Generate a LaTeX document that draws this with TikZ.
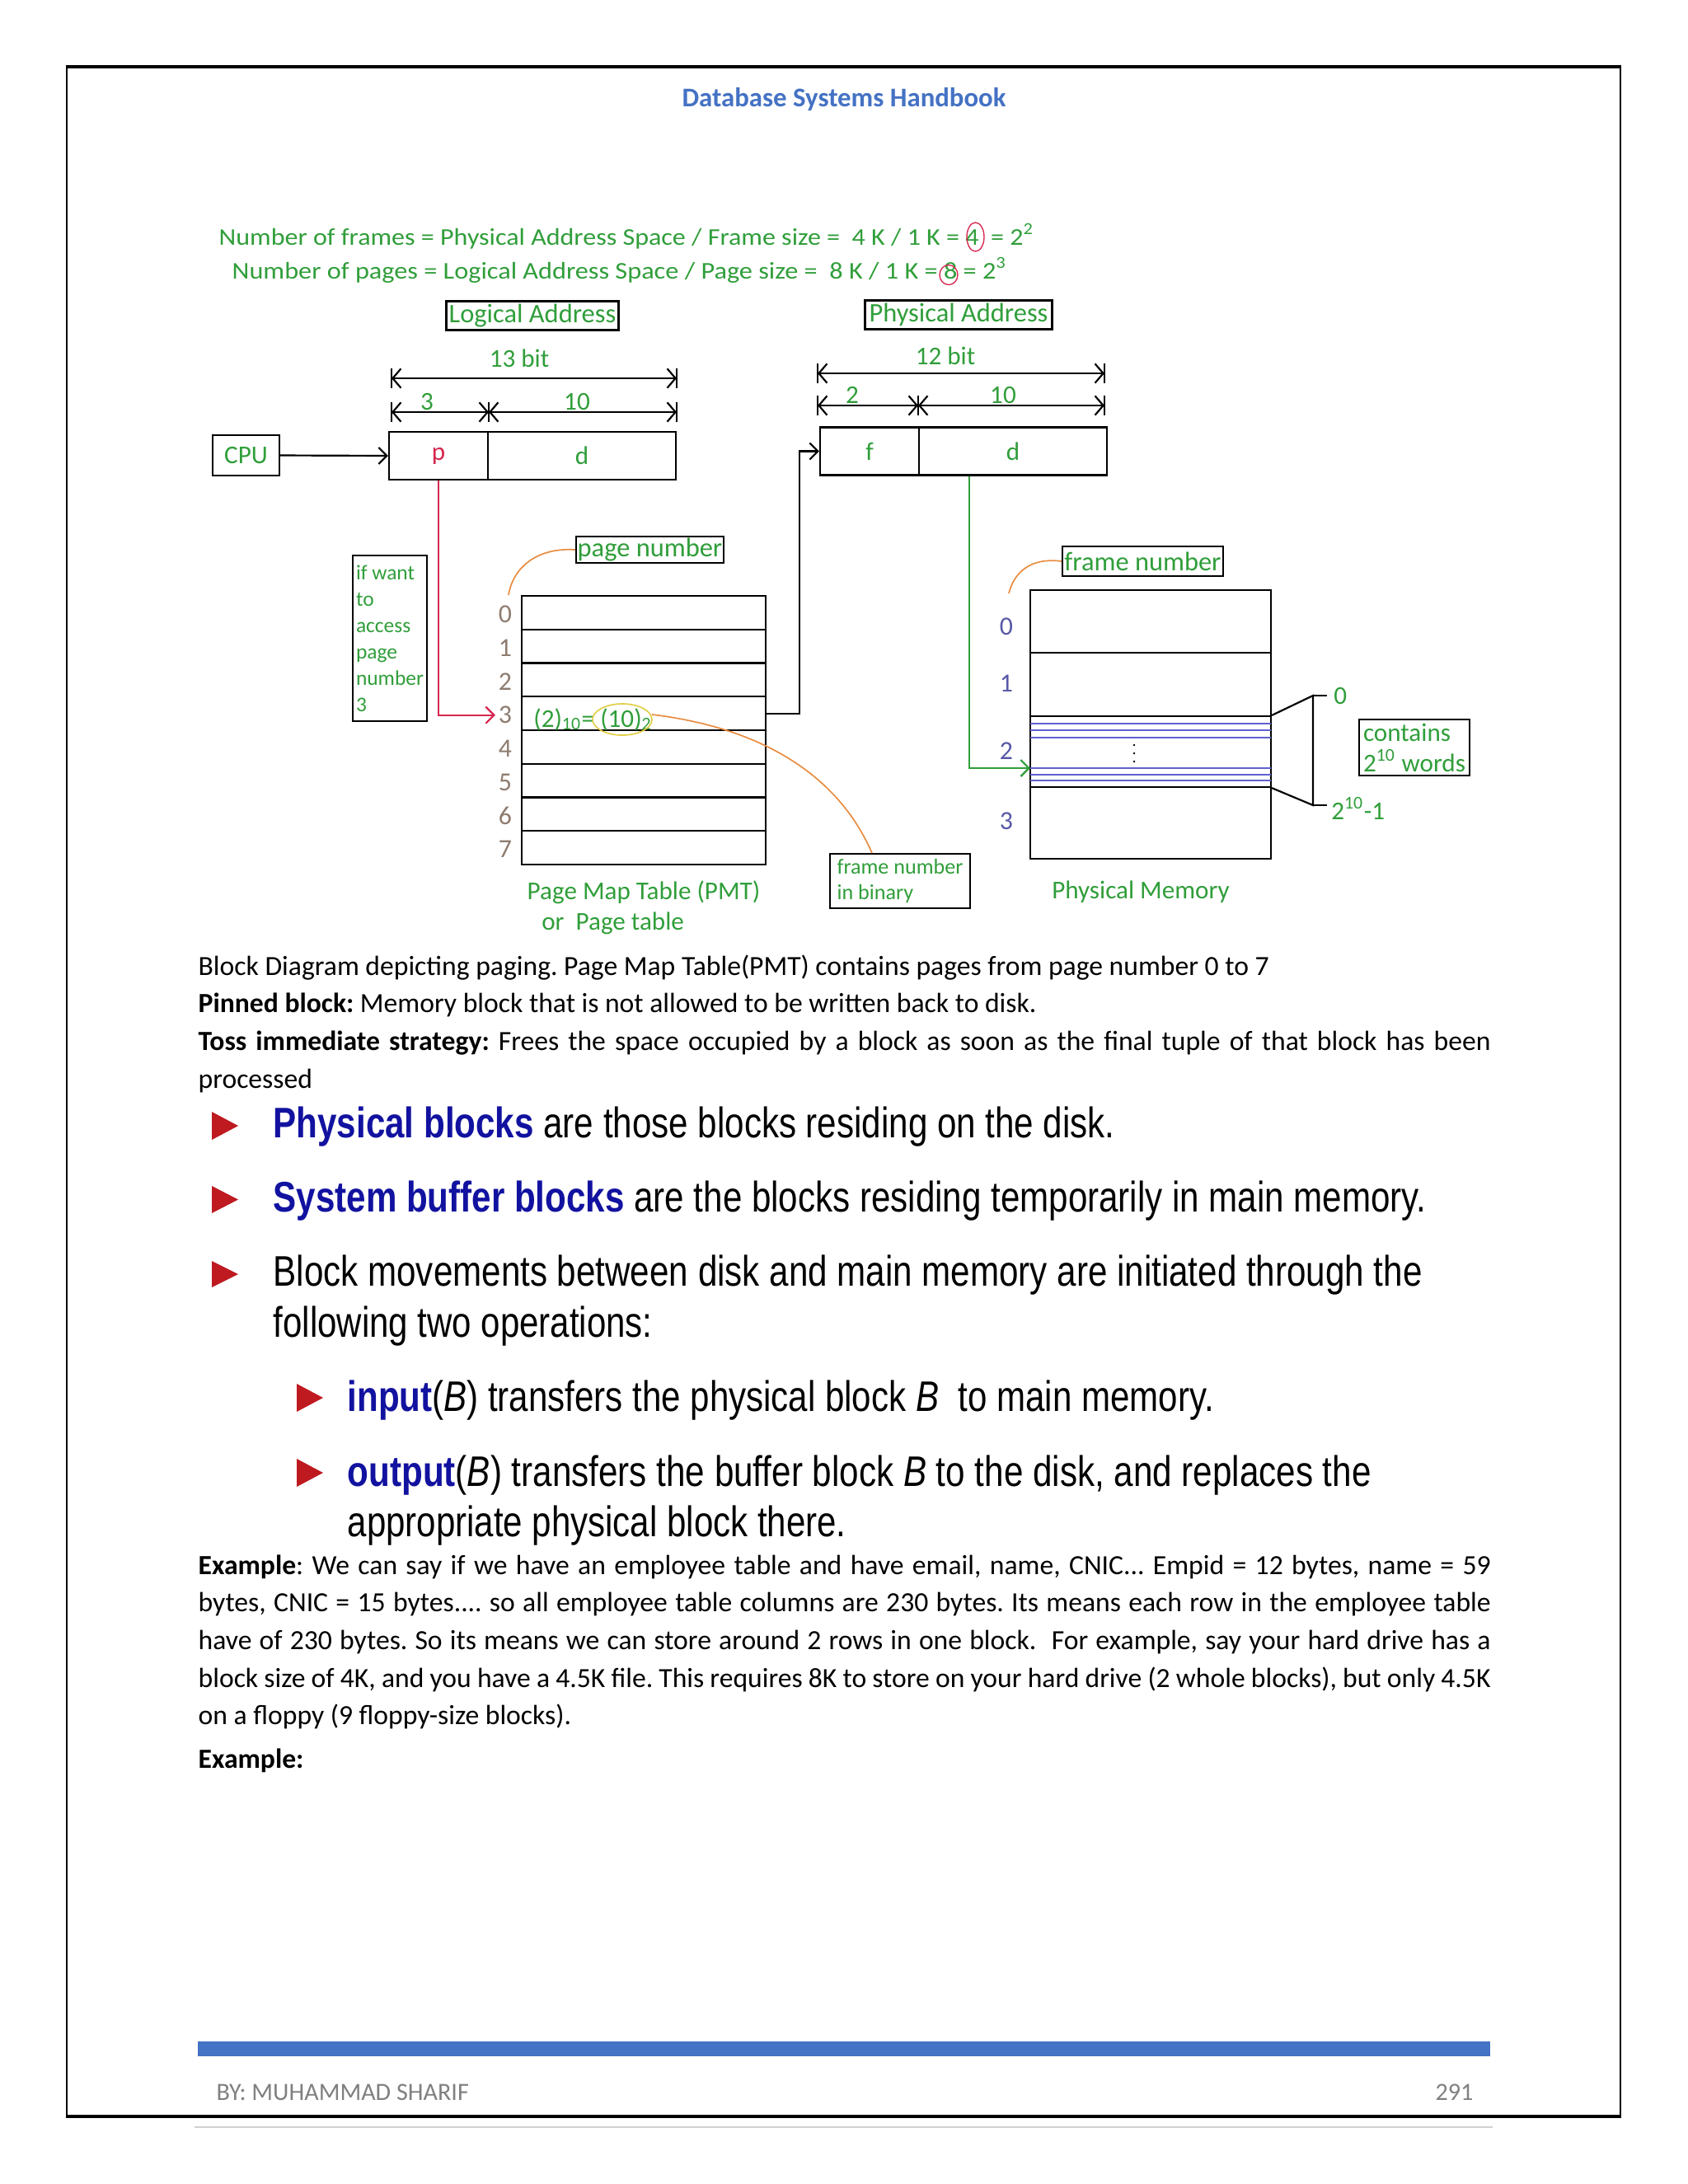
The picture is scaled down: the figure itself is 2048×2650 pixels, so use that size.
\documentclass[tikz,border=0pt]{standalone}
\usepackage{fontspec}
\setmainfont{Carlito}
\newfontfamily\arialf{Liberation Sans}
\usepackage{graphicx}
\usetikzlibrary{arrows.meta,calc}
\newlength\pxu
\setlength\pxu{0.29883pt}
\definecolor{dg}{RGB}{48,158,58}
\definecolor{pr}{RGB}{214,38,78}
\definecolor{orn}{RGB}{232,140,64}
\definecolor{fbl}{RGB}{88,88,168}
\definecolor{lbl}{RGB}{96,96,208}
\definecolor{rgr}{RGB}{142,124,112}
\definecolor{hbl}{RGB}{68,114,196}
\definecolor{navyb}{RGB}{18,18,160}
\definecolor{bred}{RGB}{190,26,32}
\definecolor{yel}{RGB}{226,206,70}
\definecolor{ftg}{RGB}{128,128,128}
\newcommand\bodyf{\fontsize{10.05}{13.65}\selectfont}
\newcommand\bulf{\arialf\fontsize{15.5}{18}\selectfont}
\newcommand\dgf{\fontsize{9.3}{11}\selectfont}
\begin{document}
\frenchspacing
\begin{tikzpicture}[x=0.29883pt,y=-0.29883pt,
  bx/.style 2 args={draw,rectangle,line width=0.65pt,inner sep=0pt,minimum width=#1\pxu,minimum height=#2\pxu},
  ln/.style={line width=0.65pt},
  arr/.style={-{Straight Barb[length=3pt,width=6pt]}},
  dimarr/.style={{Straight Barb[length=3pt,width=7pt]}-{Straight Barb[length=3pt,width=7pt]}},
  gt/.style={text=dg,font=\dgf,inner sep=0.5pt},
  rowlab/.style={text=rgr,font=\fontsize{9.5}{11}\selectfont,inner sep=1pt},
  frlab/.style={text=fbl,font=\fontsize{9.5}{11}\selectfont,inner sep=1pt},
  curv/.style={orn,line width=0.5pt}]
\useasboundingbox (0,0) rectangle (2048,2650);
\fill[white] (0,0) rectangle (2048,2650);
% page frame
\draw[line width=0.6pt] (81,81) rectangle (1966,2568);
\draw[line width=1.4pt] (80,81) -- (1967,81);
\draw[line width=1.4pt] (80,2568) -- (1967,2568);
\draw[black!18,line width=0.8pt] (236,2581) -- (1811,2581);
% header
\node[anchor=base,text=hbl,font=\bfseries\fontsize{9.8}{12}\selectfont,inner sep=0] (hdr) at (1024,129) {Database Systems Handbook};
% formulas
\node[anchor=base west,inner sep=0,text=dg] (eq1) at (265,297) {\resizebox{989\pxu}{\height}{\fontsize{8.7}{10}\selectfont Number of frames = Physical Address Space / Frame size =\ \ 4 K / 1 K = 4\ \ = 2\textsuperscript{2}}};
\node[anchor=base west,inner sep=0,text=dg] (eq2) at (281,338) {\resizebox{940\pxu}{\height}{\fontsize{8.7}{10}\selectfont Number of pages = Logical Address Space / Page size =\ \ 8 K / 1 K = 8\ = 2\textsuperscript{3}}};
\draw[pr,line width=0.4pt] (1183.5,287.5) ellipse [x radius=10.5, y radius=17.5];
\draw[pr,line width=0.4pt] (1151,333.5) ellipse [x radius=11, y radius=12];
% logical address
\node[bx={209}{35},gt,font=\fontsize{9.7}{11}\selectfont] (labL) at (646,383) {Logical Address};
\node[anchor=base,gt] (t13) at (630,445) {13 bit};
\coordinate (a0) at (475,459); \coordinate (a1) at (821,459);
\draw[ln,dimarr] (a0) -- (a1);
\foreach \x in {475,821} \draw[ln] (\x,447) -- (\x,471);
\coordinate (b0) at (475,500); \coordinate (b1) at (593,500); \coordinate (b2) at (821,500);
\draw[ln,dimarr] (b0) -- (b1);
\draw[ln,dimarr] (b1) -- (b2);
\foreach \x in {475,593,821} \draw[ln] (\x,488) -- (\x,512);
\node[anchor=base,gt] (t3) at (518,497) {3};
\node[anchor=base,gt] (t10) at (700,497) {10};
\node[bx={81}{49},gt] (cpu) at (298.5,552.5) {CPU};
\node[bx={120}{58},text=pr,font=\dgf] (lp) at (532,553) {p};
\node[bx={228}{58},gt] (ld) at (706,553) {d};
\draw[ln,arr] (cpu.east) -- (lp.west);
% physical address
\node[bx={227}{35},gt,font=\fontsize{9.7}{11}\selectfont] (labP) at (1163,382) {Physical Address};
\node[anchor=base,gt] (t12) at (1147,442) {12 bit};
\coordinate (c0) at (992,453); \coordinate (c1) at (1340,453);
\draw[ln,dimarr] (c0) -- (c1);
\foreach \x in {992,1340} \draw[ln] (\x,441) -- (\x,465);
\coordinate (e0) at (992,492); \coordinate (e1) at (1114,492); \coordinate (e2) at (1340,492);
\draw[ln,dimarr] (e0) -- (e1);
\draw[ln,dimarr] (e1) -- (e2);
\foreach \x in {992,1114,1340} \draw[ln] (\x,480) -- (\x,504);
\node[anchor=base,gt] (t2) at (1034,489) {2};
\node[anchor=base,gt] (t10b) at (1217,489) {10};
\node[bx={120}{58},gt] (pf) at (1055,547.5) {f};
\node[bx={228}{58},gt] (pd) at (1229,547.5) {d};
% page map table
\foreach \i in {0,...,7} {
  \node[bx={296}{40.75}] (r\i) at (781,{723+40.75*(\i+0.5)}) {};
  \node[rowlab] (n\i) at (613,{725+40.75*(\i+0.5)}) {\i};
}
\node[anchor=base west,gt] (bin) at (645,882) {(2)\textsubscript{10}= (10)\textsubscript{2}};
\draw[yel,line width=0.5pt] (755,873) ellipse [x radius=36, y radius=19];
\coordinate (ye) at (791,867);
\node[bx={179}{28},gt,font=\fontsize{9.7}{11}\selectfont] (pn) at (788.5,667) {page number};
\draw[curv] (pn.west) .. controls (650,664) and (622,690) .. (617,722);
\node[bx={90}{201},text=dg,font=\fontsize{7.6}{9.56}\selectfont,align=left] (iw) at (473,774.5) {if want\\to\\access\\page\\number\\3};
\node[anchor=base,gt] (pmt) at (781,1091) {Page Map Table (PMT)};
\node[anchor=base west,gt] (pmt2) at (655,1128) {or\ \ Page table};
\draw[pr,ln,arr] (lp.south) |- (n3.west);
\coordinate (bend) at (970,547.5);
\draw[ln,arr] (r3.east) -| (bend) -- (pf.west);
% frame number in binary
\node[bx={170}{66},text=dg,font=\fontsize{7.8}{9.5}\selectfont,align=left] (fnb) at (1092,1069) {frame number\\in binary};
\draw[curv] (ye) .. controls (900,880) and (1010,925) .. ($(fnb.north west)+(52,0)$);
% physical memory
\node[bx={292}{76}] (m0) at (1396,754) {};
\node[bx={292}{77}] (m1) at (1396,830.5) {};
\node[bx={292}{86}] (m2) at (1396,912) {};
\node[bx={292}{87}] (m3) at (1396,998.5) {};
\node[frlab] (f0) at (1221,760) {0};
\node[frlab] (f1) at (1221,829) {1};
\node[frlab] (f2) at (1221,911) {2};
\node[frlab] (f3) at (1221,996) {3};
\foreach \y in {878,886,895,932,940,947} \draw[lbl,line width=0.5pt] (1250,\y) -- (1542,\y);
\foreach \y in {904,914,924} \fill (1376,\y) circle [radius=1.4];
\coordinate (gs) at ($(pd.south west)+(62,0)$);
\coordinate (gtg) at (1250,932);
\draw[dg,ln,arr] (gs) |- (gtg);
\coordinate (bt) at (1593,844); \coordinate (bb) at (1593,977);
\draw[ln] (m2.north east) -- (bt) -- (bb) -- (m2.south east);
\draw[ln] (bt) -- ++(17,0);
\draw[ln] (bb) -- ++(17,0);
\node[gt,anchor=west] (z0) at (1616,844) {0};
\node[gt,anchor=west] (z1) at (1613,981) {2\textsuperscript{10}-1};
\node[bx={134}{68},gt,align=left] (cw) at (1716,907) {contains\\2\textsuperscript{10} words};
\node[bx={195}{36},gt,font=\fontsize{9.7}{11}\selectfont] (fn) at (1386.5,681) {frame number};
\draw[curv] (fn.west) .. controls (1250,676) and (1230,695) .. (1224,720);
\node[anchor=base,gt] (pm) at (1384,1090) {Physical Memory};
% body text
\node[anchor=base west,inner sep=0,text width=1568\pxu,align=justify,font=\bodyf] (p1) at (240,1183) {Block Diagram depicting paging. Page Map Table(PMT) contains pages from page number 0 to 7\par
\textbf{Pinned block:} Memory block that is not allowed to be written back to disk.\par
\textbf{Toss immediate strategy:} Frees the space occupied by a block as soon as the final tuple of that block has been\linebreak processed};
% bullets
\fill[bred] (257,1349) -- (257,1383) -- (289,1366) -- cycle;
\fill[bred] (257,1439) -- (257,1472) -- (289,1455.5) -- cycle;
\fill[bred] (257,1530) -- (257,1562) -- (289,1546) -- cycle;
\fill[bred] (360,1679) -- (360,1713) -- (392,1696) -- cycle;
\fill[bred] (360,1770) -- (360,1804) -- (392,1787) -- cycle;
\node[anchor=base west,inner sep=0] (bl1) at (331,1380) {\resizebox{1021\pxu}{\height}{\bulf\textcolor{navyb}{\textbf{Physical blocks}} are those blocks residing on the disk.}};
\node[anchor=base west,inner sep=0] (bl2) at (331,1470) {\resizebox{1399\pxu}{\height}{\bulf\textcolor{navyb}{\textbf{System buffer blocks}} are the blocks residing temporarily in main memory.}};
\node[anchor=base west,inner sep=0] (bl3) at (331,1560) {\resizebox{1394\pxu}{\height}{\bulf Block movements between disk and main memory are initiated through the}};
\node[anchor=base west,inner sep=0] (bl3b) at (331,1622) {\resizebox{460\pxu}{\height}{\bulf following two operations:}};
\node[anchor=base west,inner sep=0] (bl4) at (421,1712) {\resizebox{1051\pxu}{\height}{\bulf\textcolor{navyb}{\textbf{input}}(\textit{B}) transfers the physical block \textit{B}\ \ to main memory.}};
\node[anchor=base west,inner sep=0] (bl5) at (421,1803) {\resizebox{1242\pxu}{\height}{\bulf\textcolor{navyb}{\textbf{output}}(\textit{B}) transfers the buffer block \textit{B} to the disk, and replaces the}};
\node[anchor=base west,inner sep=0] (bl5b) at (421,1864) {\resizebox{605\pxu}{\height}{\bulf appropriate physical block there.}};
% example paragraph
\node[anchor=base west,inner sep=0,text width=1568\pxu,align=justify,font=\bodyf] (p2) at (240,1910) {\textbf{Example}: We can say if we have an employee table and have email, name, CNIC... Empid = 12 bytes, name = 59\linebreak bytes, CNIC = 15 bytes.... so all employee table columns are 230 bytes. Its means each row in the employee table\linebreak have of 230 bytes. So its means we can store around 2 rows in one block.\ \ For example, say your hard drive has a\linebreak block size of 4K, and you have a 4.5K file. This requires 8K to store on your hard drive (2 whole blocks), but only 4.5K\linebreak on a floppy (9 floppy-size blocks).};
\node[anchor=base west,inner sep=0,font=\bodyf\bfseries] (ex2) at (240,2145) {Example:};
% footer
\fill[hbl] (240,2477) rectangle (1808,2495);
\node[anchor=base west,inner sep=0,text=ftg,font=\fontsize{9}{11}\selectfont] (by) at (262,2548) {BY: MUHAMMAD SHARIF};
\node[anchor=base east,inner sep=0,text=ftg,font=\fontsize{9}{11}\selectfont] (pg) at (1788,2548) {291};
\end{tikzpicture}
\end{document}
